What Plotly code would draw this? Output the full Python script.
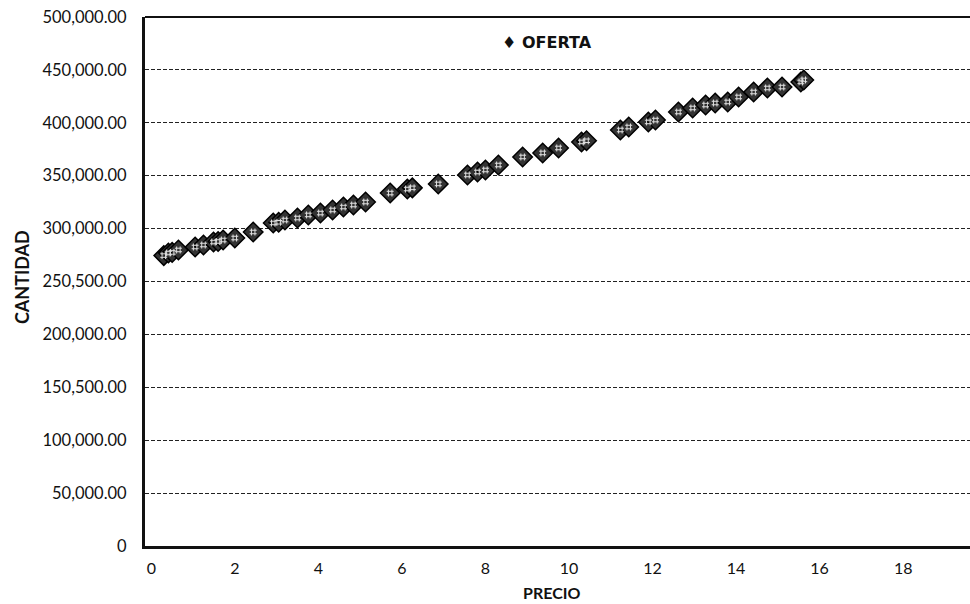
import plotly.graph_objects as go

precio = [0.30, 0.41, 0.50, 0.65, 1.05, 1.25, 1.49, 1.60, 1.72, 2.00, 2.44,
          2.92, 3.05, 3.20, 3.50, 3.76, 4.05, 4.34, 4.60, 4.84, 5.13,
          5.72, 6.13, 6.25, 6.87, 7.57, 7.81, 8.00, 8.31, 8.89, 9.37, 9.75,
          10.30, 10.42, 11.23, 11.43, 11.90, 12.07, 12.62, 12.96, 13.27,
          13.50, 13.80, 14.06, 14.42, 14.75, 15.10, 15.55, 15.62]
cantidad = [274500, 276900, 277500, 279800, 282600, 284500, 287300, 287800,
            289200, 291100, 296800, 305300, 306000, 308100, 310000, 312900,
            314700, 317600, 320400, 322300, 325100, 333600, 337400, 338500,
            342200, 350700, 353500, 355400, 360100, 367700, 371500, 376200,
            381900, 383000, 393200, 396000, 400800, 402600, 410200, 414000,
            416800, 418700, 419700, 424400, 429100, 432900, 433800, 438600,
            440500]

y_ticks = [0, 50000, 100000, 150000, 200000, 250000, 300000, 350000,
           400000, 450000, 500000]
y_labels = ["0", "50,000.00", "100,000.00", "150,500.00", "200,000.00",
            "250,500.00", "300,000.00", "350,000.00", "400,000.00",
            "450,000.00", "500,000.00"]
x_ticks = [0, 2, 4, 6, 8, 10, 12, 14, 16, 18]

FONT = "Lato"
INK = "#111111"

fig = go.Figure()
fig.add_trace(go.Scatter(
    x=precio, y=cantidad, mode="markers", name="OFERTA",
    marker=dict(symbol="diamond", size=15, color="#333333",
                line=dict(color="#000000", width=1.5)),
))
fig.add_trace(go.Scatter(
    x=precio, y=cantidad, mode="markers", name="OFERTA", hoverinfo="skip",
    marker=dict(symbol="hash-open", size=7, color="#e0e0e0",
                line=dict(color="#e0e0e0", width=1)),
))

fig.update_layout(
    width=970, height=604,
    margin=dict(l=145, r=0, t=17, b=58),
    paper_bgcolor="white", plot_bgcolor="white",
    font=dict(family=FONT, color=INK, size=14),
    showlegend=False,
    xaxis=dict(range=[-0.15, 19.6], tickvals=x_ticks,
               ticktext=[str(v) for v in x_ticks],
               showgrid=False, zeroline=False,
               showline=True, linecolor=INK, linewidth=3,
               ticks="", ticklabelstandoff=6,
               tickfont=dict(family=FONT, size=16)),
    yaxis=dict(range=[0, 500000], tickvals=y_ticks, ticktext=y_labels,
               showgrid=True, gridcolor="#222222", gridwidth=1,
               griddash="4px,2px",
               zeroline=False,
               showline=True, linecolor=INK, linewidth=3,
               ticks="", ticklabelstandoff=12,
               tickfont=dict(family=FONT, size=16.5)),
)
fig.add_shape(type="line", xref="paper", yref="paper", x0=0, x1=1, y0=1, y1=1,
              line=dict(color=INK, width=2))

fig.add_annotation(text="<b>CANTIDAD</b>", textangle=-90, showarrow=False,
                   xref="paper", yref="paper", x=-0.149, y=0.5085,
                   xanchor="center", yanchor="middle",
                   font=dict(family=FONT, size=18, color=INK))
fig.add_annotation(text="<b>PRECIO</b>", showarrow=False,
                   xref="paper", yref="paper", x=0.4933, y=-0.0888,
                   xanchor="center", yanchor="middle",
                   font=dict(family=FONT, size=16, color=INK))
fig.add_annotation(text="<b>♦ OFERTA</b>", showarrow=False,
                   xref="paper", yref="paper", x=0.4303, y=0.9509,
                   xanchor="left", yanchor="middle",
                   font=dict(family="DejaVu Sans", size=16, color=INK))

fig.write_html("out.html")
